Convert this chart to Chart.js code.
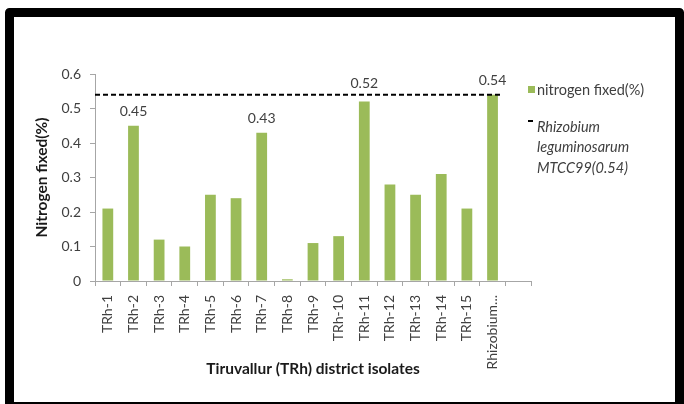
<!DOCTYPE html>
<html>
<head>
<meta charset="utf-8">
<script src="https://cdn.jsdelivr.net/npm/chart.js@4.4.0/dist/chart.umd.min.js"></script>
<style>
  html, body { margin: 0; padding: 0; background: #ffffff; }
  #wrap { position: relative; width: 684px; height: 404px; }
  canvas { display: block; }
</style>
</head>
<body>
<div id="wrap"><canvas id="c" width="684" height="404"></canvas></div>
<script>
// ---- data ----
const categories = ['TRh-1','TRh-2','TRh-3','TRh-4','TRh-5','TRh-6','TRh-7','TRh-8','TRh-9','TRh-10','TRh-11','TRh-12','TRh-13','TRh-14','TRh-15','Rhizobium...'];
const nitrogenFixed = [0.21, 0.45, 0.12, 0.10, 0.25, 0.24, 0.43, 0.005, 0.11, 0.13, 0.52, 0.28, 0.25, 0.31, 0.21, 0.54];
const labelledIndices = [1, 6, 10, 15];
const referenceValue = 0.54;
const seriesLabel = 'nitrogen fixed(%)';
const referenceLabelLines = ['Rhizobium', 'leguminosarum', 'MTCC99(0.54)'];
const yAxisTitle = 'Nitrogen fixed(%)';
const xAxisTitle = 'Tiruvallur (TRh) district isolates';
const yMin = 0, yMax = 0.6, yStep = 0.1;

// ---- styling ----
const FONT = 'Lato, "Open Sans", sans-serif';
const BAR = '#9BBB59';
const AXIS = '#a6a6a6';
const TXT = '#404040';

const labels = categories.concat(['']);

const framePlugin = {
  id: 'frame',
  beforeDraw(chart) {
    const ctx = chart.ctx;
    ctx.save();
    ctx.fillStyle = '#ffffff';
    ctx.fillRect(0, 0, chart.width, chart.height);
    ctx.restore();
  },
  afterDraw(chart) {
    const ctx = chart.ctx;
    ctx.save();
    ctx.strokeStyle = '#000000';
    ctx.lineWidth = 9;
    ctx.lineJoin = 'round';
    ctx.strokeRect(9.5, 12.5, 670, 394);
    ctx.restore();
  }
};

const refLinePlugin = {
  id: 'refLine',
  afterDatasetsDraw(chart) {
    const ctx = chart.ctx;
    const y = chart.scales.y.getPixelForValue(referenceValue);
    const meta = chart.getDatasetMeta(0);
    const last = meta.data[nitrogenFixed.length - 1];
    const xEnd = last.x + last.width / 2 + 4;
    ctx.save();
    ctx.strokeStyle = '#000000';
    ctx.lineWidth = 2;
    ctx.setLineDash([5, 3]);
    ctx.beginPath();
    ctx.moveTo(chart.chartArea.left, y);
    ctx.lineTo(xEnd, y);
    ctx.stroke();
    ctx.restore();
  }
};

const dataLabelPlugin = {
  id: 'dataLabels',
  afterDatasetsDraw(chart) {
    const ctx = chart.ctx;
    const meta = chart.getDatasetMeta(0);
    ctx.save();
    ctx.fillStyle = TXT;
    ctx.font = '14px ' + FONT;
    ctx.textAlign = 'center';
    ctx.textBaseline = 'middle';
    labelledIndices.forEach(i => {
      const el = meta.data[i];
      const v = nitrogenFixed[i];
      const lift = (v < referenceValue && chart.scales.y.getPixelForValue(v) - chart.scales.y.getPixelForValue(referenceValue) < 12) ? 18 : 14;
      ctx.fillText(v.toFixed(2), el.x, el.y - lift);
    });
    ctx.restore();
  }
};

const legendPlugin = {
  id: 'customLegend',
  afterDraw(chart) {
    const ctx = chart.ctx;
    const x0 = chart.chartArea.right - 3;
    ctx.save();
    ctx.fillStyle = BAR;
    ctx.fillRect(x0, 86, 7, 7);
    ctx.fillStyle = TXT;
    ctx.font = '14.5px ' + FONT;
    ctx.textAlign = 'left';
    ctx.textBaseline = 'middle';
    ctx.fillText(seriesLabel, x0 + 9, 90);
    ctx.strokeStyle = '#000000';
    ctx.lineWidth = 2;
    ctx.beginPath();
    ctx.moveTo(x0, 121);
    ctx.lineTo(x0 + 5, 121);
    ctx.stroke();
    ctx.font = 'italic 14.5px ' + FONT;
    referenceLabelLines.forEach((t, k) => {
      ctx.fillText(t, x0 + 9, 127 + k * 20.5);
    });
    ctx.restore();
  }
};

new Chart(document.getElementById('c'), {
  type: 'bar',
  data: {
    labels: labels,
    datasets: [{
      label: seriesLabel,
      data: nitrogenFixed,
      backgroundColor: BAR,
      borderWidth: 0,
      categoryPercentage: 1.0,
      barPercentage: 0.42
    }]
  },
  options: {
    responsive: false,
    animation: false,
    devicePixelRatio: 1,
    layout: { padding: { left: 29, top: 74, right: 153, bottom: 22 } },
    plugins: {
      legend: { display: false },
      tooltip: { enabled: false }
    },
    scales: {
      x: {
        offset: true,
        grid: { offset: true, drawOnChartArea: false, drawTicks: true, tickLength: 5, color: AXIS },
        border: { color: AXIS, width: 1 },
        ticks: {
          autoSkip: false, minRotation: 90, maxRotation: 90, padding: 9,
          color: TXT, font: { family: FONT, size: 14 }
        },
        title: {
          display: true, text: xAxisTitle, color: '#1a1a1a',
          font: { family: FONT, size: 15.5, weight: 'bold' }, padding: { top: 4, bottom: 4 }
        },
        afterFit(scale) { scale.height = 101; }
      },
      y: {
        min: yMin, max: yMax,
        grid: { drawOnChartArea: false, drawTicks: true, tickLength: 5, color: AXIS },
        border: { color: AXIS, width: 1 },
        ticks: {
          stepSize: yStep, padding: 9, color: TXT,
          font: { family: FONT, size: 14 },
          callback: v => String(+v.toFixed(1))
        },
        title: {
          display: true, text: yAxisTitle, color: '#1a1a1a',
          font: { family: FONT, size: 15.5, weight: 'bold' }, padding: { top: 4, bottom: 4 }
        },
        afterFit(scale) { scale.width = 66; }
      }
    }
  },
  plugins: [framePlugin, refLinePlugin, dataLabelPlugin, legendPlugin]
});
</script>
</body>
</html>
